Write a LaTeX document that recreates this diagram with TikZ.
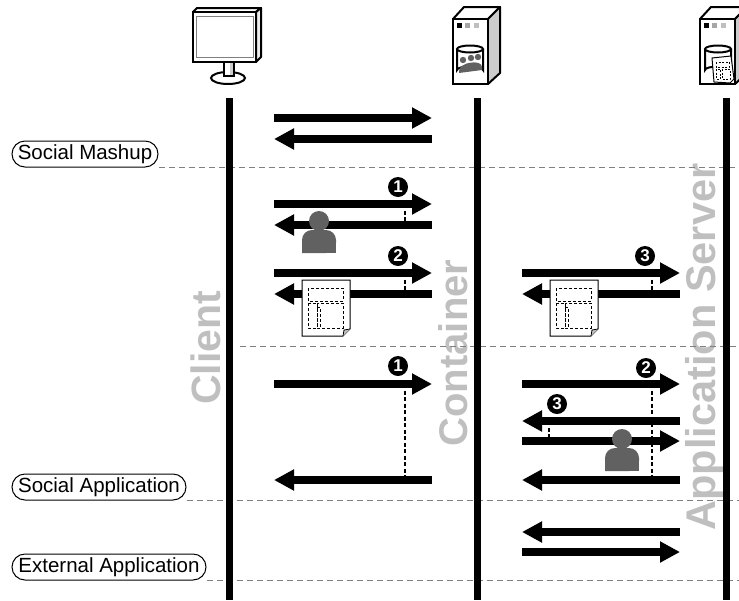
\documentclass[tikz,border=0pt]{standalone}
\usepackage{fontspec}
\setmainfont{Liberation Sans}
\usetikzlibrary{arrows.meta,calc}
\definecolor{bigtext}{gray}{0.75}
\definecolor{persongray}{gray}{0.38}
\tikzset{
  person/.pic={
    \fill[persongray] (0,-22) circle (10);
    \fill[persongray,rounded corners=10] (-17,10) -- (-17,-13) -- (17,-13) -- (17,10) [sharp corners] -- cycle;
    \fill[persongray] (-17,0) rectangle (17,10);
  },
  page/.pic={
    \draw[fill=white,line width=1] (-24,-28) -- (24,-28) -- (24,21) -- (17,28) -- (-24,28) -- cycle;
    \draw[fill=white!75!black,line width=0.8] (24,21) -- (18,22) -- (17,28);
    \draw[line width=1,dash pattern=on 3 off 2] (-18,-20) rectangle (17,-7);
    \draw[line width=1,dash pattern=on 3 off 2] (-18,-5) rectangle (-9,20);
    \draw[line width=1,dash pattern=on 3 off 2] (-9,-5) rectangle (17,20);
    \draw[line width=1,dash pattern=on 3 off 2] (-9,-1) -- (-6,-1) -- (-6,20);
  },
  database/.pic={
    \draw[fill=white,line width=2] (-13,0) -- (-13,21) arc[start angle=180,end angle=360,x radius=13,y radius=3.5] -- (13,0);
    \draw[fill=white,line width=2] (0,0) ellipse (13 and 3.5);
  },
  serverbox/.pic={
    \draw[fill=white,line width=2,line join=round] (0,0) -- (11,-12) -- (47,-12) -- (35,0) -- cycle;
    \fill[gray!40] (35,0) -- (47,-12) -- (47,54) -- (35,65) -- cycle;
    \draw[line width=2,line join=round] (35,0) -- (47,-12) -- (47,54) -- (35,65);
    \draw[fill=white,line width=2] (0,0) rectangle (35,65);
    \fill[black] (4,4) rectangle +(5,5);
    \fill[gray!70] (12,4) rectangle +(5,5);
    \fill[gray!50] (21,4) rectangle +(5,5);
  }
}
\begin{document}
\begin{tikzpicture}[x=1pt,y=-1pt]
    \tikzstyle{lifeline} = [line width=7pt]
    \tikzstyle{msg} = [line width=7.5pt,-{Triangle[length=20pt,width=20pt]}]
    \tikzstyle{tick} = [line width=1.2pt,dash pattern=on 4pt off 2.5pt]
    \tikzstyle{sep} = [gray,line width=1pt,dash pattern=on 6pt off 4pt]
    \tikzstyle{kind} = [draw,rounded corners=13pt,line width=1pt,inner sep=0pt,minimum height=26pt,font=\fontsize{20.5}{24}\selectfont]
    \tikzstyle{badge} = [circle,fill=black,text=white,inner sep=0pt,minimum size=20pt,font=\fontsize{17}{17}\selectfont\bfseries]
    \tikzstyle{role} = [text=bigtext,rotate=90,font=\bfseries,inner sep=0pt]
    \useasboundingbox (0,0) rectangle (739,600);
      \node[role,font=\fontsize{41}{48}\selectfont\bfseries] (clientName) at (206,348) {Client};
      \node[role,font=\fontsize{40}{48}\selectfont\bfseries] (containerName) at (453,353) {Container};
      \node[role,font=\fontsize{41.5}{48}\selectfont\bfseries] (serverName) at (705,347) {Application Server};
      % kinds of application
      \node[kind,minimum width=146pt] (mashup) at (85,154) {Social Mashup};
      \node[kind,minimum width=174pt] (social) at (99,487) {Social Application};
      \node[kind,minimum width=194pt] (external) at (109,567) {External Application};
      \coordinate (edge) at (739,0);
      \coordinate (middle) at (240,346);
      \draw[sep] (mashup.south east) -- (mashup.south east -| edge);
      \draw[sep] (middle) -- (middle -| edge);
      \draw[sep] (social.south east) -- (social.south east -| edge);
      \draw[sep] (external.south east) -- (external.south east -| edge);
      % lifelines
      \foreach \n/\x in {client/229,container/477,server/726} {
        \coordinate (\n Top) at (\x,98);
        \coordinate (\n End) at (\x,600);
        \draw[lifeline] (\n Top) -- (\n End);
      }
      % message rows
      \foreach \n/\y in {a/118,b/139,c/204,d/225,e/273,f/294,g/384,h/480,i/421,j/441,k/532,l/552} {
        \coordinate (L\n) at (274,\y);
        \coordinate (M\n) at (432,\y);
        \coordinate (R\n) at (522,\y);
        \coordinate (S\n) at (680,\y);
      }
      \foreach \s/\t in {La/Ma,Mb/Lb,Lc/Mc,Md/Ld,Le/Me,Mf/Lf,Lg/Mg,Mh/Lh,Re/Se,Sf/Rf,Rg/Sg,Si/Ri,Rj/Sj,Sh/Rh,Sk/Rk,Rl/Sl}
        \draw[msg] (\s) -- (\t);
      % pointers from the numbers
      \coordinate (leftTick) at (405,0);
      \coordinate (rightTick) at (652,0);
      \coordinate (shortTick) at (549,0);
      \draw[tick] (leftTick |- Lc) -- (leftTick |- Ld);
      \draw[tick] (leftTick |- Le) -- (leftTick |- Lf);
      \draw[tick] (leftTick |- Lg) -- (leftTick |- Lh);
      \draw[tick] (rightTick |- Re) -- (rightTick |- Rf);
      \draw[tick] (rightTick |- Rg) -- (rightTick |- Rh);
      \draw[tick] (shortTick |- Ri) -- (shortTick |- Rj);
      \node[badge] (one) at (398,187) {1};
      \node[badge] (two) at (398,256) {2};
      \node[badge] (three) at (645,256) {3};
      \node[badge] (oneB) at (398,366) {1};
      \node[badge] (twoB) at (646,368) {2};
      \node[badge] (threeB) at (557,404) {3};
      \pic at (319,243) {person};
      \pic at (622,461) {person};
      \pic at (326,308) {page};
      \pic at (574,308) {page};
      % client
      \draw[fill=white,line width=2,line join=round] (193,12) -- (197,8) -- (261,8) -- (256,12) -- cycle;
      \draw[fill=gray!15,line width=2,line join=round] (256,12) -- (261,8) -- (261,57) -- (256,62) -- cycle;
      \draw[line width=2] (228,78) ellipse (17 and 6);
      \draw[fill=white,line width=2] (224,62) -- (224,76) -- (234,76) -- (234,62);
      \fill[gray!40] (230,63) rectangle (233,75);
      \draw[fill=white,line width=2] (193,12) rectangle (256,62);
      \draw[gray,line width=1,fill=white] (196,16) rectangle (253,57);
      % container
      \pic at (453,19) {serverbox};
      \pic at (470,49) {database};
      \fill[persongray] (463,60) circle (3.2) (471,58) circle (3.2) (478,57) circle (3.2);
      \fill[persongray] (459,71) .. controls (459,62) and (482,59) .. (482,67) -- (482,70) -- (459,73) -- cycle;
      % application server
      \pic at (700,19) {serverbox};
      \pic at (718,49) {database};
      \draw[fill=white,line width=1] (712,58) -- (731,56) -- (734,79) -- (730,83) -- (714,82) -- cycle;
      \draw[line width=0.9,dash pattern=on 2pt off 1.5pt] (716,62) rectangle (729,67);
      \draw[line width=0.9,dash pattern=on 2pt off 1.5pt] (716,69) rectangle (720,79);
      \draw[line width=0.9,dash pattern=on 2pt off 1.5pt] (722,69) rectangle (730,79);
  \end{tikzpicture}
\end{document}
